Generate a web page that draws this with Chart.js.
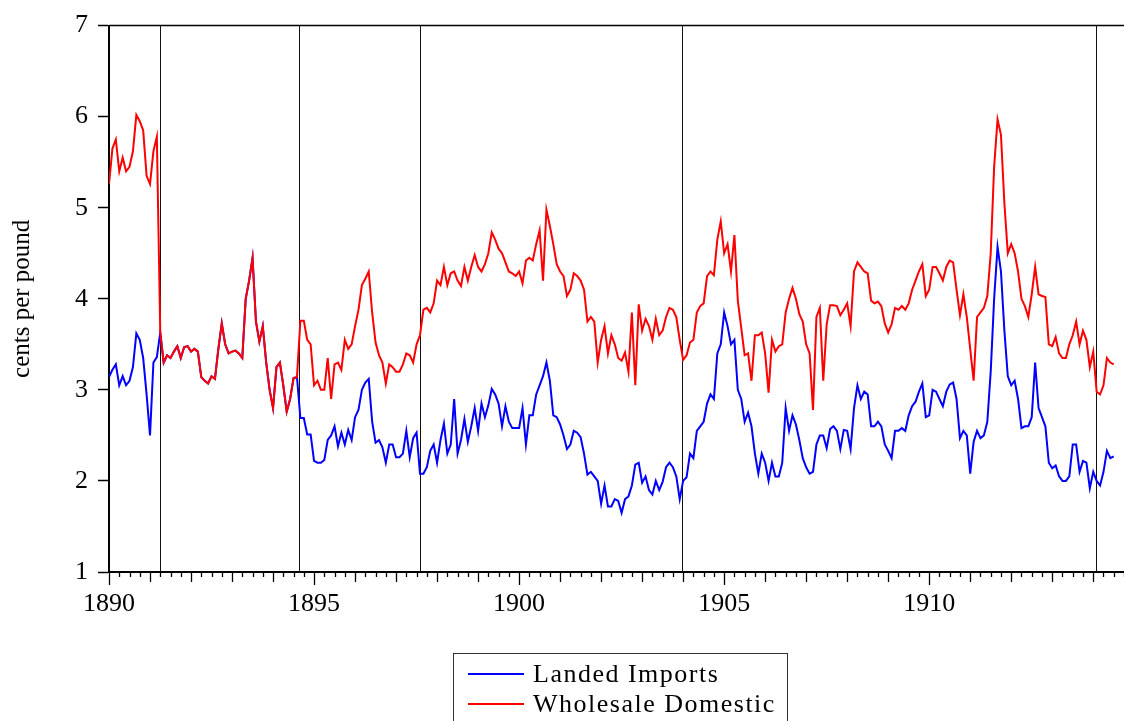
<!DOCTYPE html>
<html>
<head>
<meta charset="utf-8">
<title>Landed Imports vs Wholesale Domestic</title>
<script src="https://cdn.jsdelivr.net/npm/chart.js@4/dist/chart.umd.min.js"></script>
<style>
  html, body { margin:0; padding:0; background:#fff; }
  #wrap { position:relative; width:1124px; height:721px; overflow:hidden; }
  #chartSugar { position:absolute; left:0; top:0; }
  #legendBox { position:absolute; left:453px; top:653px; width:335px; height:90px; border:1px solid #333; box-sizing:border-box;
               font-family:"Liberation Serif", "Times New Roman", serif; font-size:26px; letter-spacing:1.5px; color:#000; }
  .leg-line { position:absolute; left:14px; width:56px; height:2px; }
  .leg-text { position:absolute; left:79px; line-height:30px; white-space:nowrap; }
</style>
</head>
<body>
<div id="wrap">
  <canvas id="chartSugar" width="1124" height="721"></canvas>
  <div id="legendBox">
    <div class="leg-line" style="top:19px;background:#0000ff"></div>
    <div class="leg-text" style="top:5px">Landed Imports</div>
    <div class="leg-line" style="top:49px;background:#ff0000"></div>
    <div class="leg-text" style="top:35px">Wholesale Domestic</div>
  </div>
</div>
<script>
/* ----------------- Data (monthly, cents per pound, Jan 1890 onward) ----------------- */
const startYear = 1890;

const landedImports = [
  3.14,3.22,3.28,3.05,3.15,3.05,3.10,3.25,3.62,3.55,3.35,2.95,
  2.50,3.30,3.36,3.63,3.30,3.38,3.35,3.42,3.48,3.35,3.47,3.48,
  3.42,3.45,3.42,3.14,3.10,3.07,3.15,3.12,3.45,3.73,3.50,3.40,
  3.42,3.43,3.40,3.35,4.00,4.20,4.45,3.75,3.53,3.70,3.30,3.00,
  2.80,3.25,3.30,3.05,2.76,2.90,3.13,3.14,2.69,2.69,2.51,2.51,
  2.22,2.20,2.20,2.23,2.45,2.50,2.60,2.38,2.53,2.40,2.56,2.45,
  2.70,2.78,3.00,3.08,3.12,2.65,2.42,2.45,2.37,2.20,2.40,2.40,
  2.26,2.26,2.30,2.55,2.26,2.47,2.53,2.08,2.08,2.15,2.33,2.40,
  2.20,2.45,2.63,2.30,2.40,2.90,2.30,2.45,2.68,2.43,2.60,2.80,
  2.55,2.85,2.70,2.83,3.01,2.95,2.85,2.60,2.82,2.65,2.58,2.58,
  2.58,2.80,2.40,2.72,2.72,2.95,3.05,3.15,3.30,3.10,2.72,2.70,
  2.62,2.50,2.35,2.40,2.55,2.53,2.48,2.30,2.07,2.10,2.05,2.00,
  1.75,1.95,1.72,1.72,1.80,1.78,1.65,1.80,1.83,1.95,2.18,2.20,
  1.98,2.05,1.90,1.85,2.00,1.90,1.99,2.15,2.20,2.15,2.05,1.80,
  2.00,2.04,2.30,2.25,2.55,2.60,2.65,2.85,2.95,2.90,3.40,3.50,
  3.85,3.70,3.50,3.55,3.00,2.90,2.65,2.75,2.60,2.30,2.08,2.30,
  2.20,2.00,2.20,2.05,2.05,2.20,2.80,2.55,2.72,2.62,2.45,2.25,
  2.15,2.08,2.10,2.40,2.50,2.50,2.36,2.57,2.60,2.55,2.35,2.56,
  2.55,2.35,2.80,3.05,2.90,2.98,2.95,2.60,2.60,2.65,2.60,2.40,
  2.33,2.25,2.55,2.55,2.58,2.55,2.72,2.82,2.87,2.98,3.07,2.70,
  2.72,3.00,2.98,2.90,2.82,2.98,3.06,3.08,2.90,2.47,2.55,2.50,
  2.08,2.43,2.55,2.47,2.50,2.65,3.20,4.00,4.57,4.30,3.65,3.15,
  3.05,3.10,2.90,2.58,2.60,2.60,2.70,3.30,2.80,2.70,2.60,2.20,
  2.14,2.17,2.05,2.00,2.00,2.05,2.40,2.40,2.10,2.22,2.20,1.92,
  2.10,2.00,1.95,2.10,2.33,2.25,2.27
];

const wholesaleDomestic = [
  5.26,5.65,5.75,5.40,5.55,5.40,5.45,5.62,6.02,5.95,5.85,5.35,
  5.26,5.62,5.78,3.63,3.30,3.38,3.35,3.42,3.48,3.35,3.47,3.48,
  3.42,3.45,3.42,3.14,3.10,3.07,3.15,3.12,3.45,3.73,3.50,3.40,
  3.42,3.43,3.40,3.35,4.00,4.20,4.45,3.75,3.53,3.70,3.30,3.00,
  2.80,3.25,3.30,3.05,2.76,2.90,3.13,3.14,3.76,3.76,3.55,3.50,
  3.05,3.10,3.00,3.00,3.35,2.90,3.28,3.30,3.22,3.55,3.45,3.50,
  3.70,3.88,4.15,4.22,4.30,3.85,3.52,3.38,3.30,3.07,3.28,3.25,
  3.20,3.20,3.28,3.40,3.38,3.30,3.50,3.60,3.88,3.90,3.85,3.95,
  4.20,4.15,4.35,4.15,4.28,4.30,4.20,4.14,4.35,4.20,4.35,4.48,
  4.35,4.30,4.38,4.50,4.73,4.65,4.55,4.50,4.40,4.30,4.28,4.25,
  4.30,4.17,4.42,4.45,4.42,4.60,4.75,4.20,4.98,4.80,4.60,4.38,
  4.30,4.25,4.03,4.10,4.28,4.25,4.20,4.10,3.75,3.80,3.75,3.30,
  3.55,3.70,3.40,3.60,3.50,3.35,3.32,3.41,3.20,3.85,3.05,3.94,
  3.65,3.78,3.70,3.55,3.78,3.60,3.65,3.80,3.90,3.88,3.80,3.55,
  3.33,3.38,3.52,3.55,3.85,3.92,3.95,4.25,4.30,4.26,4.65,4.85,
  4.50,4.60,4.30,4.70,3.98,3.68,3.38,3.40,3.10,3.60,3.60,3.63,
  3.40,2.97,3.55,3.42,3.48,3.50,3.85,4.00,4.12,4.00,3.83,3.75,
  3.50,3.40,2.78,3.80,3.90,3.10,3.72,3.93,3.93,3.92,3.82,3.88,
  3.95,3.70,4.30,4.40,4.35,4.30,4.28,3.98,3.95,3.97,3.92,3.73,
  3.63,3.72,3.90,3.88,3.92,3.88,3.95,4.10,4.20,4.30,4.38,4.03,
  4.10,4.35,4.35,4.28,4.20,4.35,4.42,4.40,4.10,3.82,4.05,3.80,
  3.45,3.10,3.80,3.85,3.90,4.03,4.50,5.45,5.97,5.80,5.05,4.50,
  4.60,4.50,4.30,4.00,3.92,3.80,4.05,4.35,4.05,4.03,4.02,3.50,
  3.48,3.58,3.40,3.35,3.35,3.50,3.60,3.75,3.50,3.65,3.55,3.25,
  3.42,2.98,2.95,3.05,3.35,3.30,3.28
];

// tariff change dates (vertical reference lines)
const tariffBreaks = [1891.25, 1894.63, 1897.58, 1903.96, 1914.07];

// axis ranges
const xRange = [1890, 1914.75];
const yRange = [1, 7];

/* ----------------- Helpers ----------------- */
const $ = id => document.getElementById(id);
const toPoints = arr => arr.map((v, i) => ({ x: startYear + i / 12, y: v }));
const SERIF = '"Liberation Serif", "Times New Roman", serif';

/* ----------------- Plugin: frame, tariff lines, quarter ticks ----------------- */
const framePlugin = {
  id: 'frameLines',
  beforeDatasetsDraw(chart) {
    const { ctx, chartArea: { top, bottom }, scales: { x } } = chart;
    ctx.save();
    ctx.strokeStyle = '#111';
    ctx.lineWidth = 1;
    tariffBreaks.forEach(v => {
      const px = Math.round(x.getPixelForValue(v)) + 0.5;
      ctx.beginPath(); ctx.moveTo(px, top); ctx.lineTo(px, bottom); ctx.stroke();
    });
    ctx.restore();
  },
  afterDraw(chart) {
    const { ctx, chartArea: { left, right, top, bottom }, scales: { x } } = chart;
    ctx.save();
    ctx.strokeStyle = '#000';
    ctx.lineWidth = 1.5;
    ctx.beginPath(); ctx.moveTo(left, top); ctx.lineTo(right, top); ctx.stroke();
    // quarter / year / 5-year ticks under the axis
    ctx.lineWidth = 1.3;
    const nQ = Math.floor((xRange[1] - xRange[0]) * 4);
    for (let k = 0; k <= nQ; k++) {
      const v = xRange[0] + k / 4;
      const px = Math.round(x.getPixelForValue(v)) + 0.5;
      const len = k % 20 === 0 ? 13 : (k % 4 === 0 ? 10 : 5);
      ctx.beginPath(); ctx.moveTo(px, bottom); ctx.lineTo(px, bottom + len); ctx.stroke();
    }
    ctx.restore();
  }
};

/* ----------------- Chart ----------------- */
new Chart($('chartSugar'), {
  type: 'line',
  data: {
    datasets: [
      { label: 'Landed Imports', data: toPoints(landedImports), borderColor: '#0000ff', borderWidth: 2, order: 1 },
      { label: 'Wholesale Domestic', data: toPoints(wholesaleDomestic), borderColor: '#ff0000', borderWidth: 2, order: 0 }
    ]
  },
  options: {
    responsive: false,
    animation: false,
    layout: { padding: { top: 20, right: 0, left: 0, bottom: 0 } },
    elements: { point: { radius: 0 }, line: { tension: 0 } },
    plugins: { legend: { display: false }, tooltip: { enabled: false } },
    scales: {
      x: {
        type: 'linear', min: xRange[0], max: xRange[1],
        grid: { display: true, drawOnChartArea: false, drawTicks: false },
        border: { display: true, color: '#000', width: 2 },
        ticks: { stepSize: 5, autoSkip: false, maxRotation: 0, includeBounds: false, padding: 17,
                 color: '#000', font: { family: SERIF, size: 26 },
                 callback: v => (v % 5 === 0 ? String(v) : '') },
        afterFit: s => { s.height = 149; }
      },
      y: {
        min: yRange[0], max: yRange[1],
        grid: { display: true, drawOnChartArea: false, drawTicks: true, tickLength: 11, tickColor: '#000', tickWidth: 1.5 },
        border: { display: true, color: '#000', width: 2 },
        ticks: { stepSize: 1, padding: 10, color: '#000', font: { family: SERIF, size: 26 } },
        title: { display: true, text: 'cents per pound', color: '#000', font: { family: SERIF, size: 25 }, padding: { top: 7, bottom: 0 } },
        afterFit: s => { s.width = 109; }
      }
    }
  },
  plugins: [framePlugin]
});
</script>
</body>
</html>
